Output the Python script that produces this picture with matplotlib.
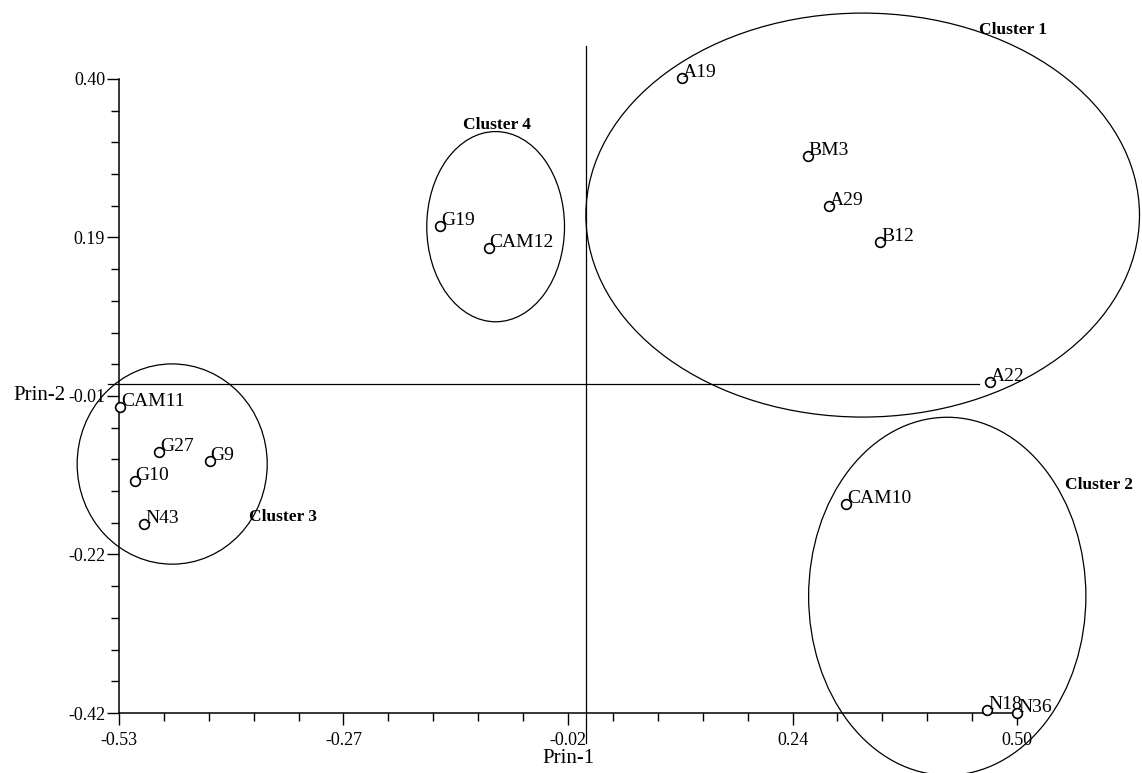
import matplotlib

matplotlib.use("Agg")
import matplotlib.pyplot as plt
import numpy as np
from matplotlib.patches import Ellipse
from matplotlib.ticker import AutoMinorLocator

# principal component scores
labels = ["A19", "BM3", "A29", "B12", "A22", "G19", "CAM12", "CAM11",
          "G27", "G9", "G10", "N43", "CAM10", "N18", "N36"]
prin1 = [0.116, 0.260, 0.284, 0.343, 0.469, -0.162, -0.106, -0.529,
         -0.484, -0.426, -0.512, -0.501, 0.304, 0.466, 0.500]
prin2 = [0.401, 0.300, 0.236, 0.189, 0.008, 0.210, 0.181, -0.024,
         -0.082, -0.094, -0.120, -0.176, -0.150, -0.416, -0.420]

# cluster ellipses (center, full width/height in data units) and their captions
cluster_names = ["Cluster 1", "Cluster 2", "Cluster 3", "Cluster 4"]
cluster_cx = [0.323, 0.420, -0.469, -0.098]
cluster_cy = [0.224, -0.269, -0.098, 0.209]
cluster_w = [0.635, 0.318, 0.218, 0.158]
cluster_h = [0.5225, 0.463, 0.259, 0.246]
cluster_lx = [0.4955, 0.594, -0.342, -0.097]
cluster_ly = [0.4634, -0.125, -0.1665, 0.3405]

xtick_labels = ["-0.53", "-0.27", "-0.02", "0.24", "0.50"]
ytick_labels = ["-0.42", "-0.22", "-0.01", "0.19", "0.40"]
XMIN, XMAX = -0.53, 0.50
YMIN, YMAX = -0.42, 0.40

plt.rcParams["font.family"] = ["Liberation Serif", "DejaVu Serif"]
plt.rcParams["axes.unicode_minus"] = False

fig = plt.figure(figsize=(11.42, 7.73), dpi=100)
ax = fig.add_axes([119 / 1142, 60 / 773, 898 / 1142, 634 / 773])
ax.set_xlim(XMIN, XMAX)
ax.set_ylim(YMIN, YMAX)

for s in ("top", "right"):
    ax.spines[s].set_visible(False)
for s in ("left", "bottom"):
    ax.spines[s].set_linewidth(1.1)

ax.set_xticks(np.linspace(XMIN, XMAX, 5))
ax.set_xticklabels(xtick_labels)
ax.set_yticks(np.linspace(YMIN, YMAX, 5))
ax.set_yticklabels(ytick_labels)
ax.xaxis.set_minor_locator(AutoMinorLocator(5))
ax.yaxis.set_minor_locator(AutoMinorLocator(5))
ax.tick_params(which="major", direction="out", length=8.5, width=1.0, labelsize=13, pad=5)
ax.tick_params(axis="y", which="major", pad=1.5)
ax.tick_params(which="minor", direction="out", length=5.5, width=1.0)

ax.set_xlabel("Prin-1", fontsize=15)
ax.xaxis.set_label_coords(0.5, -0.071)
ax.xaxis.label.set_va("center")
ax.set_ylabel("Prin-2", fontsize=15, rotation=0)
ax.yaxis.set_label_coords(-0.089, 0.5)
ax.yaxis.label.set_va("center")
ax.yaxis.label.set_ha("center")

# reference lines through the origin
ax.plot([-0.543, 0.456], [0.0055, 0.0055], color="black", lw=0.9, clip_on=False)
ax.plot([0.006, 0.006], [-0.459, 0.443], color="black", lw=0.9, clip_on=False)

for cx, cy, w, h in zip(cluster_cx, cluster_cy, cluster_w, cluster_h):
    ax.add_patch(Ellipse((cx, cy), w, h, fill=False, edgecolor="black", lw=0.9, clip_on=False))
for name, lx, ly in zip(cluster_names, cluster_lx, cluster_ly):
    ax.text(lx, ly, name, fontsize=12.5, fontweight="bold", ha="center", va="center")

ax.plot(prin1, prin2, "o", mfc="white", mec="black", ms=7, mew=1.2, ls="none",
        clip_on=False, zorder=5)
for lab, x, y in zip(labels, prin1, prin2):
    ax.annotate(lab, (x, y), xytext=(1, 1), textcoords="offset pixels",
                fontsize=14, ha="left", va="baseline", zorder=6,
                annotation_clip=False)

fig.savefig("out.png", dpi=100)
